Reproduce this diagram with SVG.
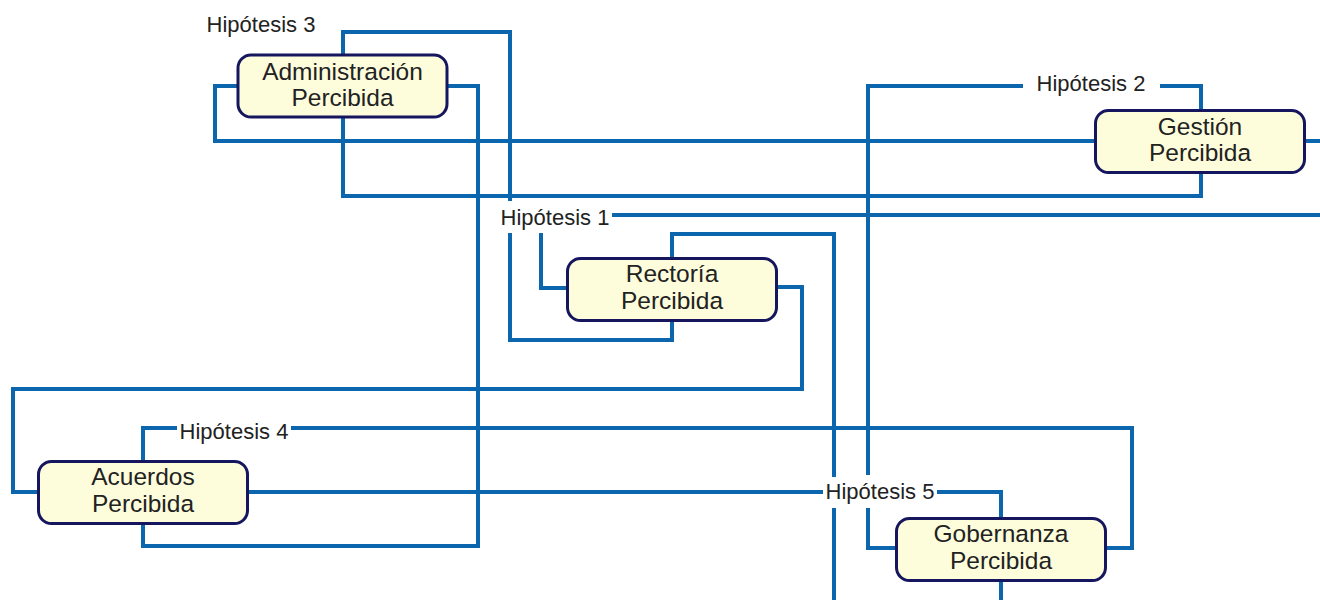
<svg xmlns="http://www.w3.org/2000/svg" width="1320" height="600" viewBox="0 0 1320 600">
<style>
.c{fill:none;stroke:#0b66ae;stroke-width:4;stroke-linejoin:miter;stroke-linecap:butt}
.n rect{fill:#fdfddc;stroke:#16165e;stroke-width:3}
.n text{font-family:"Liberation Sans",Arial,sans-serif;font-size:24.5px;fill:#222;text-anchor:middle}
.l{font-family:"Liberation Sans",Arial,sans-serif;font-size:22px;fill:#222;text-anchor:middle}
</style>
<rect width="1320" height="600" fill="#fff"/>
<g id="connectors">
<path class="c" d="M343,55 V32 H510 V201 M510,233 V340 H672 V321"/>
<path class="c" d="M343,118 V196 H1201 V174"/>
<path class="c" d="M238,86 H215 V141 H1095"/>
<path class="c" d="M448,86 H478 V546 H143 V524"/>
<path class="c" d="M1201,109 V86 H1160 M1023,86 H868 V475 M868,508 V548 H895"/>
<path class="c" d="M1305,141 H1320"/>
<path class="c" d="M612,215 H1320 M541,233 V288 H567"/>
<path class="c" d="M672,257 V234 H834 V477 M834,508 V600"/>
<path class="c" d="M777,287 H802 V389 H13 V492 H38"/>
<path class="c" d="M143,460 V428 H177 M291,428 H1132 V548 H1106"/>
<path class="c" d="M248,492 H823 M937,492 H1001 V517"/>
<path class="c" d="M1001,581 V600"/>
<text class="l" x="261" y="32">Hipótesis 3</text>
<text class="l" x="1091" y="91">Hipótesis 2</text>
<text class="l" x="555" y="225">Hipótesis 1</text>
<text class="l" x="234" y="439">Hipótesis 4</text>
<text class="l" x="880" y="499">Hipótesis 5</text>
</g>
<g id="administracion" class="n">
<rect x="238" y="55" width="209" height="62" rx="13"/>
<text x="342.5" y="80">Administración</text>
<text x="342.5" y="106">Percibida</text>
</g>
<g id="gestion" class="n">
<rect x="1095.5" y="110.5" width="209" height="62" rx="13"/>
<text x="1200" y="135">Gestión</text>
<text x="1200" y="161">Percibida</text>
</g>
<g id="rectoria" class="n">
<rect x="567.5" y="258.5" width="209" height="62" rx="13"/>
<text x="672" y="282">Rectoría</text>
<text x="672" y="309">Percibida</text>
</g>
<g id="acuerdos" class="n">
<rect x="38.5" y="461.5" width="209" height="62" rx="13"/>
<text x="143" y="485">Acuerdos</text>
<text x="143" y="512">Percibida</text>
</g>
<g id="gobernanza" class="n">
<rect x="896.5" y="518.5" width="209" height="62" rx="13"/>
<text x="1001" y="542">Gobernanza</text>
<text x="1001" y="569">Percibida</text>
</g>
</svg>
